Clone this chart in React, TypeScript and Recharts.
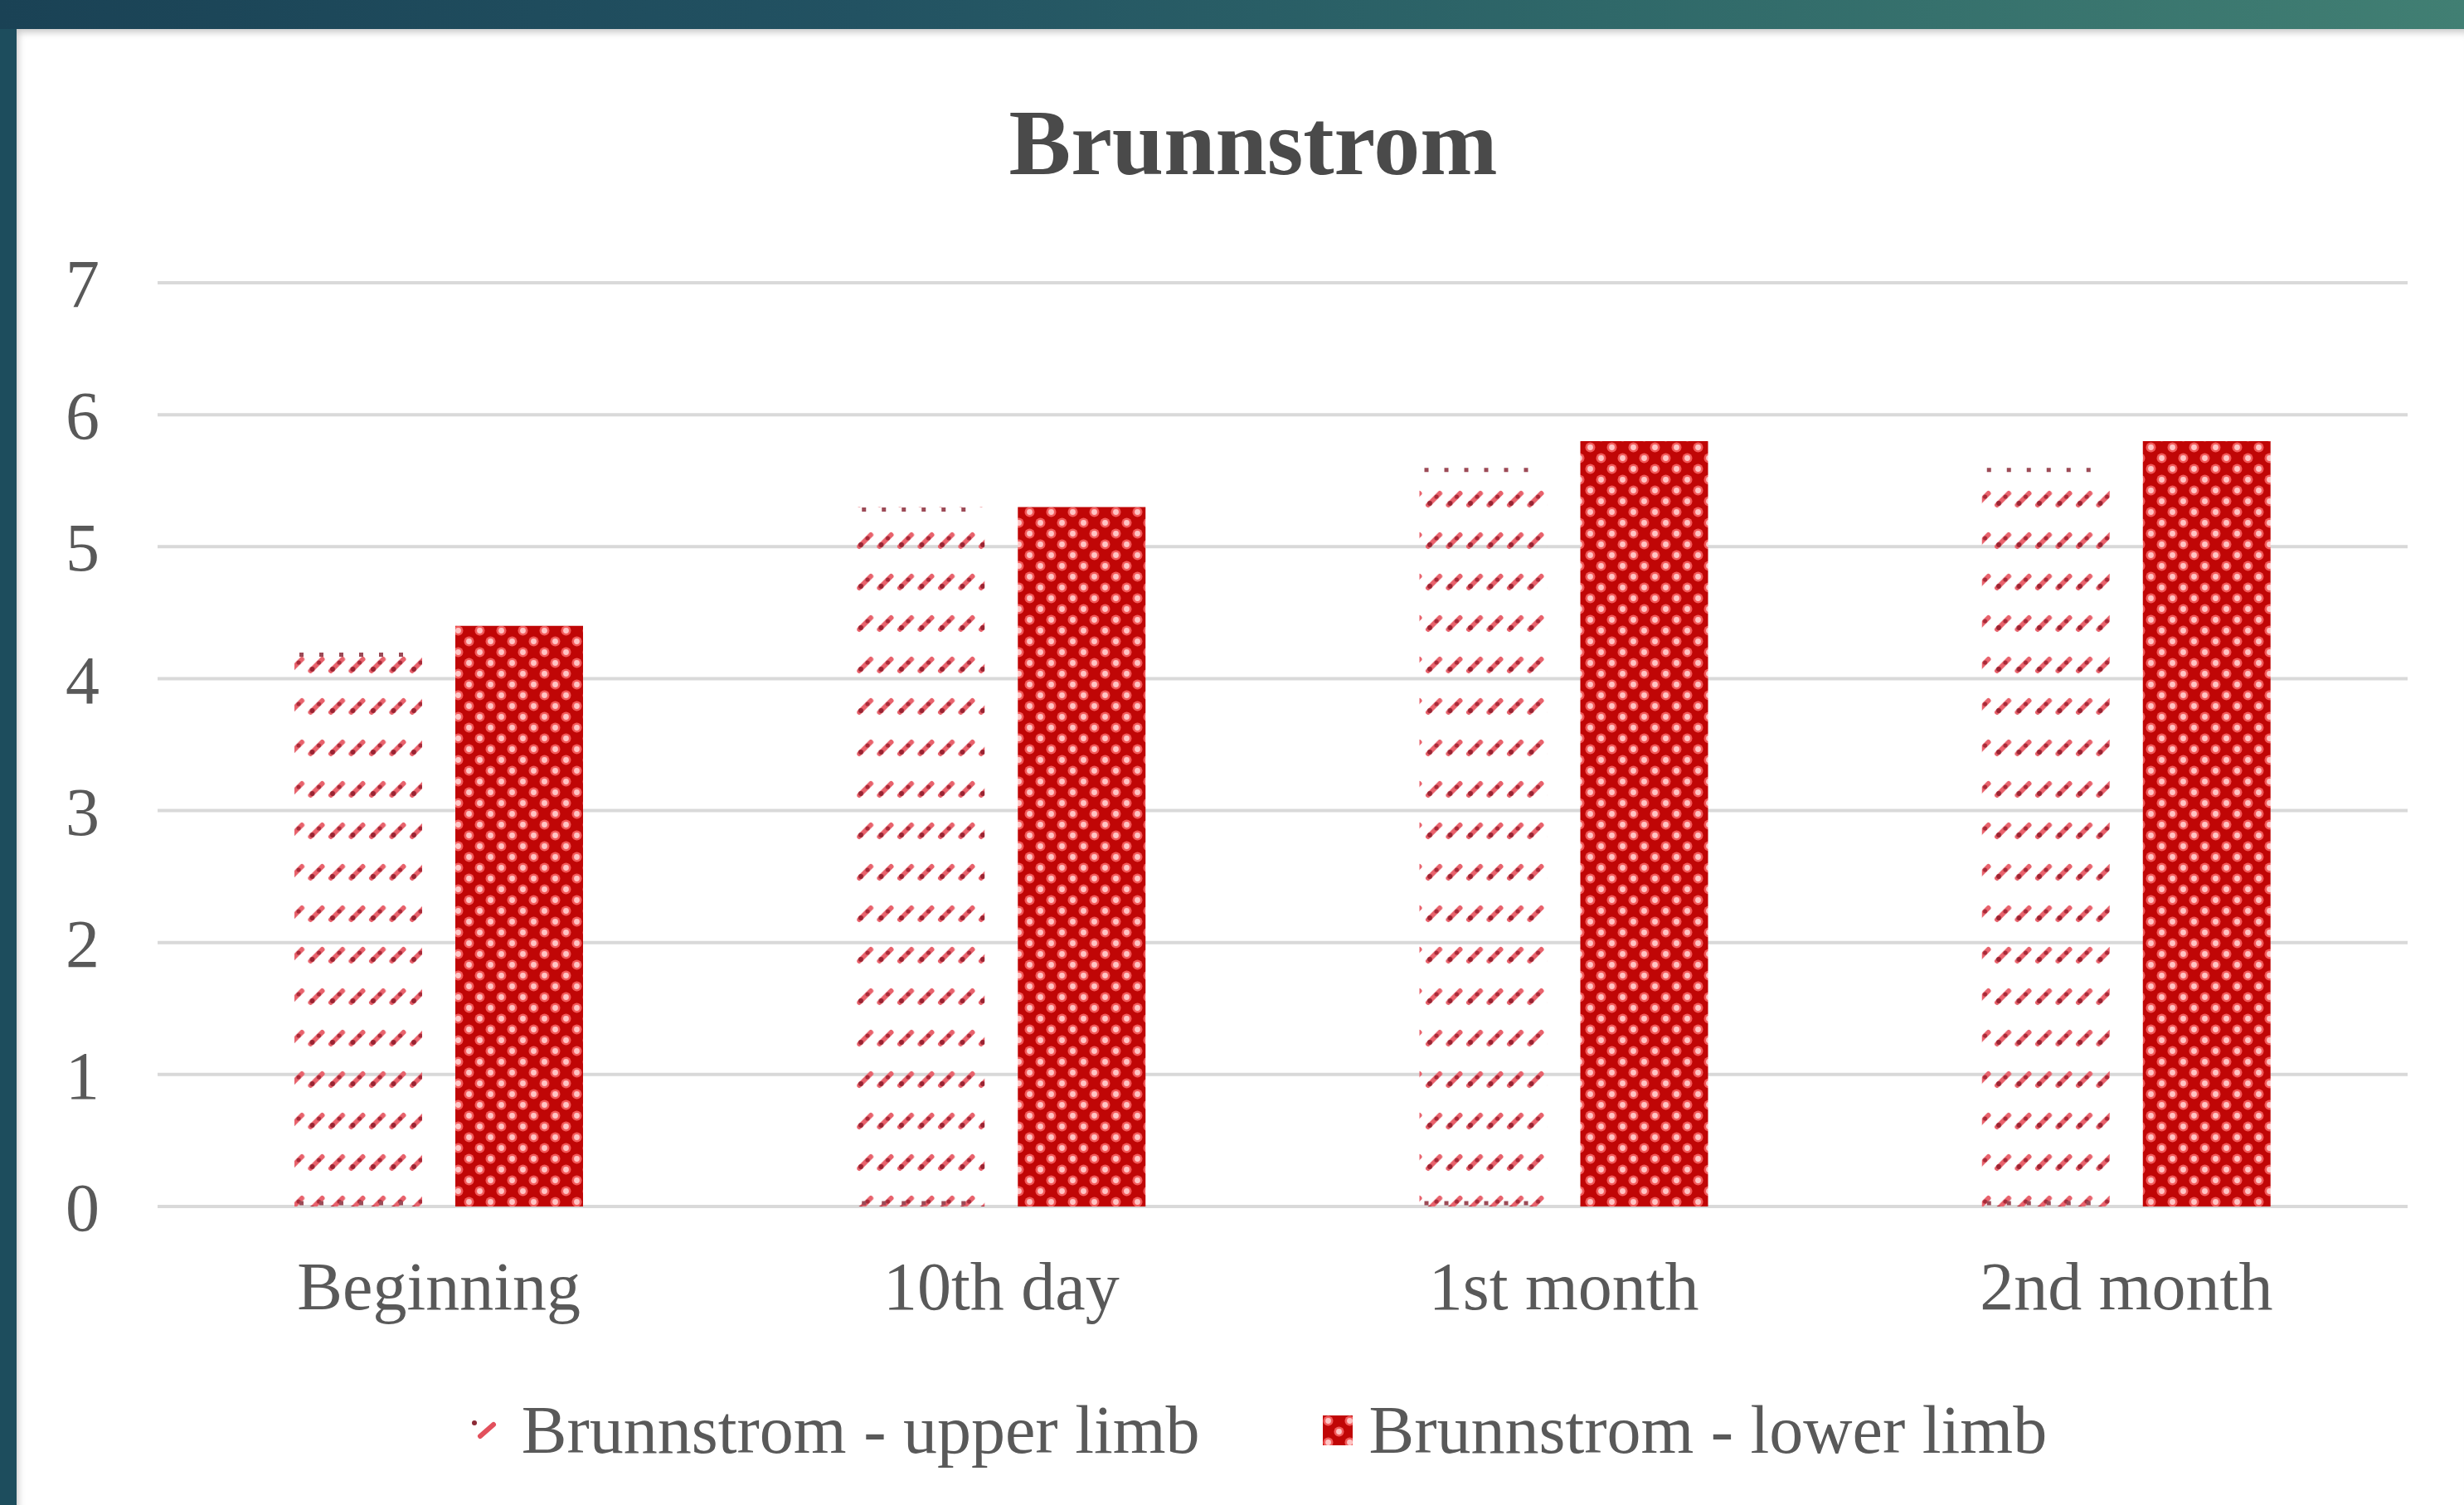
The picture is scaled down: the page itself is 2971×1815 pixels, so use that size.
import React from "react";
import { BarChart, Bar, XAxis, YAxis, CartesianGrid, Legend } from "recharts";

const categories = ["Beginning", "10th day", "1st month", "2nd month"];
const upperLimb = [4.2, 5.3, 5.6, 5.6];
const lowerLimb = [4.4, 5.3, 5.8, 5.8];
const yTicks = [0, 1, 2, 3, 4, 5, 6, 7];
const seriesNames = ["Brunnstrom - upper limb", "Brunnstrom - lower limb"];

const data = categories.map((name, i) => ({
  name,
  upper: upperLimb[i],
  lower: lowerLimb[i],
}));

const serif = "'Liberation Serif', 'Times New Roman', serif";
const labelColor = "#595959";

// upper-limb bar: pattern fill plus the dotted edge rows seen at top and bottom
const UpperShape = (props: any) => {
  const { x, y, width, height } = props;
  if (!height || height <= 0) return null;
  return (
    <g>
      <rect x={x} y={y} width={width} height={height} fill="url(#upperPat)" />
      <line x1={x + 6} x2={x + width - 4} y1={y + 3} y2={y + 3} stroke="#9c4a56" strokeWidth={5} strokeDasharray="5 19" />
      <line x1={x + 6} x2={x + width - 4} y1={y + height - 4} y2={y + height - 4} stroke="#9c4a56" strokeWidth={5} strokeDasharray="5 19" />
    </g>
  );
};

// legend swatches, drawn like the bar fills
const UpperIcon = () => (
  <svg width={38} height={38} style={{ display: "block" }}>
    <line x1={12} y1={26} x2={28} y2={12} stroke="#e2505c" strokeWidth={6} strokeLinecap="round" />
    <circle cx={5} cy={10} r={3} fill="#8c2a36" />
  </svg>
);

const LowerIcon = () => (
  <svg width={36} height={36} style={{ display: "block" }}>
    <rect x={0} y={0} width={36} height={36} fill="url(#lowerPat)" />
  </svg>
);

const renderLegend = () => (
  <div
    style={{
      display: "flex",
      justifyContent: "center",
      alignItems: "center",
      paddingLeft: 64,
      fontFamily: serif,
      fontSize: 82,
      lineHeight: "82px",
      color: labelColor,
    }}
  >
    <div style={{ display: "flex", alignItems: "center", marginRight: 148 }}>
      <div style={{ marginRight: 24 }}>
        <UpperIcon />
      </div>
      <span>{seriesNames[0]}</span>
    </div>
    <div style={{ display: "flex", alignItems: "center" }}>
      <div style={{ marginRight: 20 }}>
        <LowerIcon />
      </div>
      <span>{seriesNames[1]}</span>
    </div>
  </div>
);

export default function App() {
  return (
    <div
      style={{
        position: "absolute",
        left: 0,
        top: 0,
        width: 2971,
        height: 1815,
        overflow: "hidden",
        background: "#1d4d5d",
      }}
    >
      {/* slide frame */}
      <div
        style={{
          position: "absolute",
          left: 0,
          top: 0,
          width: 2971,
          height: 35,
          background: "linear-gradient(90deg, #1a4255 0%, #225262 35%, #2f6869 65%, #417f73 100%)",
        }}
      />
      <div
        style={{
          position: "absolute",
          left: 20,
          top: 35,
          right: 0,
          bottom: 0,
          background: "#fff",
          boxShadow: "inset 5px 7px 9px -3px rgba(0,0,0,0.22)",
        }}
      />
      <div
        style={{
          position: "absolute",
          left: 511,
          top: 116,
          width: 2000,
          textAlign: "center",
          fontFamily: serif,
          fontWeight: "bold",
          fontSize: 112,
          lineHeight: "112px",
          color: "#4a4a4a",
        }}
      >
        Brunnstrom
      </div>
      <div style={{ position: "absolute", left: 0, top: 0 }}>
        <BarChart
          width={2971}
          height={1815}
          data={data}
          margin={{ top: 341, right: 68, bottom: 240, left: 0 }}
          barSize={154}
          barGap={40}
        >
          <defs>
            <pattern id="upperPat" patternUnits="userSpaceOnUse" x={2} y={-23} width={24.5} height={50}>
              <line x1={5} y1={32} x2={19} y2={18} stroke="#e8626c" strokeWidth={6} strokeLinecap="round" />
              <circle cx={7} cy={30} r={3} fill="#9a2432" />
              <circle cx={15} cy={22} r={2.6} fill="#a82a38" />
            </pattern>
            <pattern id="lowerPat" patternUnits="userSpaceOnUse" width={26} height={26}>
              <rect x={0} y={0} width={26} height={26} fill="#c00606" />
              <circle cx={6.5} cy={6.5} r={6} fill="#f25a5a" />
              <circle cx={19.5} cy={19.5} r={6} fill="#f25a5a" />
              <circle cx={6.5} cy={6.5} r={3.4} fill="#ffc4c4" />
              <circle cx={19.5} cy={19.5} r={3.4} fill="#ffc4c4" />
            </pattern>
          </defs>
          <CartesianGrid vertical={false} stroke="#d9d9d9" strokeWidth={4} />
          <XAxis
            dataKey="name"
            axisLine={false}
            tickLine={false}
            tickSize={0}
            tickMargin={66}
            height={120}
            tick={{ fill: labelColor, fontSize: 82, fontFamily: serif }}
          />
          <YAxis
            domain={[0, 7]}
            ticks={yTicks}
            axisLine={false}
            tickLine={false}
            tickSize={0}
            tickMargin={70}
            width={190}
            tick={{ fill: labelColor, fontSize: 82, fontFamily: serif }}
          />
          <Legend
            verticalAlign="middle"
            align="center"
            content={renderLegend}
            wrapperStyle={{ top: 1684, left: 0, width: 2971 }}
          />
          <Bar dataKey="upper" name={seriesNames[0]} fill="#e8626c" shape={UpperShape} isAnimationActive={false} />
          <Bar dataKey="lower" name={seriesNames[1]} fill="url(#lowerPat)" isAnimationActive={false} />
        </BarChart>
      </div>
    </div>
  );
}
